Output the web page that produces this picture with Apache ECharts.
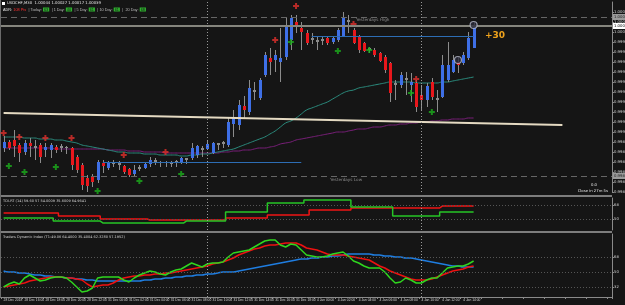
<!DOCTYPE html>
<html>
<head>
<meta charset="utf-8">
<script src="https://cdn.jsdelivr.net/npm/echarts@6/dist/echarts.min.js"></script>
<style>
html,body{margin:0;padding:0;background:#151515;}
#chart{width:625px;height:305px;}
</style>
</head>
<body>
<div id="chart"></div>
<script>
// price values in points (1 pt = 0.00001)
var tickLabels = ['28 Dec 2018','28 Dec 16:00','28 Dec 18:00','28 Dec 20:00','28 Dec 22:00','31 Dec 00:00','31 Dec 02:00','31 Dec 04:00','31 Dec 06:00','31 Dec 08:00','31 Dec 10:00','31 Dec 12:00','31 Dec 14:00','31 Dec 16:00','31 Dec 18:00','4 Jan 00:00','4 Jan 02:00','4 Jan 04:00','4 Jan 06:00','4 Jan 08:00','4 Jan 10:00','4 Jan 12:00','4 Jan 14:00'];

// open, close, low, high
var ohlc = [
[99884,99890,99880,99896],[99890,99884,99882,99892],[99892,99886,99875,99902],[99887,99879,99870,99889],
[99880,99889,99877,99892],[99889,99886,99875,99894],[99886,99884,99872,99892],[99887,99875,99869,99889],
[99882,99885,99875,99889],[99882,99887,99874,99889],[99885,99882,99879,99887],[99884,99886,99880,99888],
[99885,99884,99878,99886],[99884,99867,99862,99885],[99875,99862,99859,99877],[99867,99847,99842,99869],
[99854,99846,99840,99857],[99856,99850,99845,99858],[99852,99870,99849,99872],[99869,99866,99859,99872],
[99864,99869,99862,99871],[99868,99870,99865,99872],[99869,99867,99862,99871],[99866,99860,99858,99867],
[99863,99857,99855,99864],[99858,99862,99855,99867],[99863,99865,99861,99867],[99864,99868,99863,99869],
[99868,99872,99865,99875],[99872,99870,99867,99874],[99870,99869,99865,99871],[99869,99870,99865,99871],
[99870,99868,99865,99871],[99869,99871,99865,99872],[99869,99874,99868,99875],[99874,99872,99868,99874],
[99874,99884,99872,99889],[99877,99886,99874,99887],[99884,99882,99875,99886],[99883,99888,99882,99892],
[99879,99889,99878,99890],[99887,99889,99882,99889],[99888,99890,99884,99891],[99887,99910,99885,99914],
[99908,99914,99895,99922],[99907,99927,99902,99932],[99926,99922,99914,99936],[99920,99944,99917,99952],
[99942,99940,99932,99950],[99934,99952,99932,99954],[99957,99977,99955,99980],[99974,99970,99957,99984],
[99972,99977,99960,99982],[99970,99974,99950,100004],[99975,100007,99972,100014],[99992,100014,99982,100017],
[100010,100007,99999,100017],[100004,100000,99982,100010],[99999,99989,99987,100002],[99994,99992,99988,99999],
[99992,99990,99982,99995],[99993,99991,99987,99995],[99994,99989,99987,99995],[99990,99994,99988,99996],
[99992,100002,99990,100004],[99995,100014,99995,100020],[100012,100010,99999,100017],[100002,99989,99988,100004],
[99995,99982,99979,99997],[99989,99981,99980,99990],[99984,99982,99979,99985],[99982,99977,99975,99984],
[99979,99971,99970,99980],[99975,99962,99959,99977],[99969,99939,99930,99970],[99947,99949,99932,99952],
[99947,99957,99944,99960],[99954,99952,99937,99960],[99947,99950,99930,99959],[99949,99925,99920,99952],
[99937,99932,99922,99947],[99932,99946,99925,99949],[99950,99935,99932,99954],[99932,99934,99920,99942],
[99935,99967,99934,99977],[99952,99967,99950,99990],[99960,99972,99959,99977],[99970,99967,99959,99975],
[99969,99977,99967,99980],[99974,99994,99972,100000],[99984,100006,99984,100010]
];

var maTeal = [99895,99895,99895,99895,99894,99894,99894,99893,99893,99893,99892,99892,99891,99890,99889,99887,99886,99885,99884,99883,
99882,99881,99880,99880,99879,99879,99879,99878,99878,99878,99877,99877,99877,99877,99876,99876,99877,99877,99878,99878,
99879,99880,99881,99882,99883,99885,99887,99889,99891,99893,99895,99898,99901,99905,99909,99911,99914,99918,99922,99924,
99926,99928,99930,99933,99936,99939,99941,99942,99944,99945,99946,99947,99948,99949,99950,99950,99950,99950,99950,99949,
99949,99949,99949,99949,99950,99950,99951,99952,99953,99954,99955];

var maPurple = [99884,99884,99884,99884,99884,99884,99884,99884,99884,99884,99883,99883,99883,99883,99883,99883,99883,99883,99883,99883,
99882,99882,99882,99882,99881,99881,99881,99880,99880,99880,99880,99879,99879,99879,99879,99879,99879,99879,99879,99879,
99879,99879,99880,99880,99881,99881,99882,99882,99883,99884,99884,99885,99886,99888,99889,99890,99892,99893,99894,99895,
99896,99897,99898,99899,99900,99900,99901,99902,99903,99903,99904,99905,99905,99906,99907,99907,99908,99908,99909,99909,
99910,99910,99911,99911,99912,99912,99913,99913,99913,99914,99914];

var sellSig = [[0,99899],[3,99895],[8,99894],[13,99894],[23,99877],[31,99880],[52,99992],[56,100026],[67,100008],[79,99953]];
var buySig = [[1,99866],[4,99860],[10,99865],[18,99841],[26,99851],[34,99858],[55,99990],[64,99981],[70,99982],[78,99939],[82,99920]];
var circles = [[90,100007],[87,99972]];

var yHigh = 100015, yLow = 99856, lastPrice = 100006;
var blueLevelA = 99996, blueLevelB = 99870;
var trendStart = 99919, trendEnd = 99907;

// RSI panel
var rsiRed = [57.8,57.8,57.8,57.8,57.8,57.8,57.8,57.8,57.8,57.8,57.8,53.9,53.9,53.9,53.9,53.9,53.9,53.9,53.9,50.1,
50.1,50.1,50.1,50.1,50.1,50.1,50.1,50.1,48.8,48.8,48.8,48.8,48.8,48.8,48.8,48.8,48.8,48.8,48.8,48.8,
48.8,48.8,48.8,51.4,51.4,51.4,51.4,51.4,51.4,51.4,51.4,55.2,55.2,55.2,55.2,55.2,55.2,55.2,55.2,61.6,
61.6,61.6,61.6,61.6,61.6,61.6,61.6,64.2,64.2,64.2,64.2,64.2,64.2,64.2,64.2,64.2,64.2,64.2,64.2,64.2,
64.2,64.2,64.2,64.2,66.7,66.7,66.7,66.7,66.7,66.7,66.7];
var rsiGreen = [51.4,51.4,51.4,51.4,51.4,51.4,51.4,51.4,51.4,51.4,47.5,47.5,47.5,47.5,47.5,47.5,47.5,47.5,47.5,45.0,
45.0,45.0,45.0,45.0,45.0,45.0,45.0,45.0,45.0,45.0,45.0,45.0,45.0,45.0,45.0,47.5,47.5,47.5,47.5,47.5,
47.5,47.5,47.5,59.0,59.0,59.0,59.0,59.0,59.0,59.0,59.0,70.6,70.6,70.6,70.6,70.6,70.6,70.6,74.4,74.4,
74.4,74.4,74.4,74.4,74.4,74.4,74.4,65.5,65.5,65.5,65.5,65.5,65.5,65.5,65.5,53.9,53.9,53.9,53.9,53.9,
53.9,53.9,53.9,53.9,59.0,59.0,59.0,59.0,59.0,59.0,59.0];

// Traders Dynamic Index
var tdiBlue = [51.2,50,50,48.8,48.8,47.6,46.4,46.4,45.2,45.2,44,44,42.8,42.8,41.6,41.6,40.4,40.4,39.2,39.2,
39.2,39.2,39.2,39.2,39.2,39.2,39.2,40.4,40.4,41.6,41.6,42.8,42.8,44,44,45.2,45.2,46.4,46.4,47.6,
47.6,48.8,50,50,50,51.2,52.4,53.6,54.8,56,57.2,58.4,59.6,60.8,62,63.2,64.4,65.6,65.6,66.8,
66.8,68,68,69.2,69.2,70.4,71.6,71.6,71.6,71.6,71.6,70.4,70.4,69.2,69.2,68,68,66.8,66.8,65.6,
64.4,63.2,62,60.8,59.6,58.4,57.2,57.2,56,56,56];
var tdiRed = [32,33.2,34.4,35.6,36.8,39.2,40.4,41.6,42.8,44,44,44,42.8,42.8,41.6,40.4,35.6,32,33.2,34.4,
34.4,36.8,40.4,42.8,44,45.2,45.2,46.4,46.4,47.6,47.6,48.8,48.8,50,51.2,52.4,53.6,54.8,56,57.2,
59.6,60.8,62,64.4,66.8,70.4,72.8,75.2,77.6,78.8,81.2,82.4,82.4,83.6,84.8,84.8,84.8,82.4,78.8,77.6,
76.4,74,71.6,70.4,70.4,70.4,69.2,68,66.8,65.6,64.4,60.8,57.2,54.8,51.2,48.8,46.4,44,41.6,40.4,
40.4,40.4,41.6,44,46.4,48.8,51.2,52.4,53.6,56,57.2];
var tdiGreen = [32,35.6,38,35.6,42.8,46.4,42.8,39.2,40.4,42.8,44,44,42.8,38,32,26,27.2,30.8,42.8,44,
44,44,44,40.4,38,42.8,46.4,48.8,51.2,50,47.6,46.4,50,52.4,53.6,57.2,60.8,58.4,56,59.6,
60.8,60.8,62,68,72.8,74,75.2,76.4,80,83.6,87.2,88.4,88.4,82.4,80,83.6,82.4,76.4,70.4,69.2,
68,68,69.2,71.6,72.8,74,69.2,63.2,60.8,57.2,54.8,54.8,54.8,50,42.8,36.8,38,42.8,40.4,36.8,
36.8,40.4,42.8,42.8,48.8,54.8,56,57.2,57.2,59.6,63.2];

var sepBars = [38.5, 79.5];

var cats = [];
for (var k = 0; k < 117; k++) cats.push(String(k));

var axisTxt = '#d4d4d4';
var fnt = 'DejaVu Sans';
var tiny = 3.8;

function vLines() {
    return sepBars.map(function (b) { return { xAxis: b }; });
}

var chart = echarts.init(document.getElementById('chart'), null, { renderer: 'canvas' });

var option = {
    backgroundColor: '#151515',
    animation: false,
    textStyle: { fontFamily: fnt },
    grid: [
        { left: 1, top: 2, width: 611, height: 190, containLabel: false, outerBoundsMode: 'none' },
        { left: 1, top: 198, width: 611, height: 32, containLabel: false, outerBoundsMode: 'none' },
        { left: 1, top: 234, width: 611, height: 63, containLabel: false, outerBoundsMode: 'none' }
    ],
    xAxis: [0, 1, 2].map(function (g) {
        return {
            type: 'category', gridIndex: g, data: cats, boundaryGap: true,
            axisLine: { show: g == 2, lineStyle: { color: '#8a8a8a' } },
            axisTick: { show: g == 2, interval: 3, length: 2, lineStyle: { color: '#8a8a8a' } },
            axisLabel: {
                show: g == 2, color: axisTxt, fontSize: 3.3, fontFamily: 'Liberation Sans', margin: 2, align: 'left',
                hideOverlap: false, showMinLabel: true,
                interval: function (idx) { return idx % 4 == 0 && idx / 4 < tickLabels.length; },
                formatter: function (v, idx) { return tickLabels[idx / 4] || ''; }
            },
            splitLine: { show: false }
        };
    }),
    yAxis: [
        {
            type: 'value', gridIndex: 0, position: 'right', min: 99840, max: 100030, interval: 10,
            axisLine: { show: true, lineStyle: { color: '#8a8a8a' } },
            axisTick: { show: true, length: 2 },
            axisLabel: { color: axisTxt, fontSize: tiny, margin: 2, showMaxLabel: false,
                formatter: function (v) { return (v / 100000).toFixed(5); } },
            splitLine: { show: false }
        },
        {
            type: 'value', gridIndex: 1, position: 'right', min: 36, max: 77,
            axisLine: { show: true, lineStyle: { color: '#8a8a8a' } },
            axisTick: { show: true, length: 2, customValues: [50, 68] },
            axisLabel: { color: axisTxt, fontSize: tiny, margin: 2, customValues: [50, 68] },
            splitLine: { show: false }
        },
        {
            type: 'value', gridIndex: 2, position: 'right', min: 20, max: 95.6,
            axisLine: { show: true, lineStyle: { color: '#8a8a8a' } },
            axisTick: { show: true, length: 2, customValues: [32, 50, 68] },
            axisLabel: { color: axisTxt, fontSize: tiny, margin: 2, customValues: [32, 50, 68] },
            splitLine: { show: false }
        }
    ],
    series: [
        {
            name: 'ma2', type: 'line', xAxisIndex: 0, yAxisIndex: 0, data: maPurple, smooth: true,
            showSymbol: false, lineStyle: { color: '#7a1f7a', width: 1 }, z: 2,
            markLine: {
                silent: true, symbol: 'none',
                data: [
                    [{ coord: [0, trendStart], lineStyle: { color: '#e4dac2', width: 2, type: 'solid' }, label: { show: false } },
                     { coord: [107, trendEnd] }],
                    [{ coord: [59, blueLevelA], lineStyle: { color: '#2d6db4', width: 1, type: 'solid' }, label: { show: false } },
                     { coord: [90, blueLevelA] }],
                    [{ coord: [19, blueLevelB], lineStyle: { color: '#2d6db4', width: 1, type: 'solid' }, label: { show: false } },
                     { coord: [57, blueLevelB] }],
                    { yAxis: yHigh, lineStyle: { color: '#666', width: 1, type: [6, 4] },
                      label: { show: true, position: 'end', distance: 1, fontSize: tiny, color: '#222', backgroundColor: '#9a9a9a', padding: [1, 1],
                               formatter: function () { return (yHigh / 100000).toFixed(5); } } },
                    { yAxis: yLow, lineStyle: { color: '#666', width: 1, type: [6, 4] },
                      label: { show: true, position: 'end', distance: 1, fontSize: tiny, color: '#222', backgroundColor: '#9a9a9a', padding: [1, 1],
                               formatter: function () { return (yLow / 100000).toFixed(5); } } },
                    { yAxis: lastPrice, lineStyle: { color: '#85857d', width: 2, type: 'solid' },
                      label: { show: true, position: 'end', distance: 1, fontSize: tiny, color: '#000', backgroundColor: '#ffffff', padding: [1, 1],
                               formatter: function () { return (lastPrice / 100000).toFixed(5); } } }
                ].concat(vLines().map(function (d) {
                    d.lineStyle = { color: '#9a9a9a', width: 1, type: [1, 2] }; d.label = { show: false }; return d;
                }))
            }
        },
        {
            name: 'ma1', type: 'line', xAxisIndex: 0, yAxisIndex: 0, data: maTeal, smooth: true,
            showSymbol: false, lineStyle: { color: '#2b8c7e', width: 1 }, z: 2
        },
        {
            name: 'bars', type: 'custom', xAxisIndex: 0, yAxisIndex: 0, z: 3,
            data: ohlc.map(function (d, i) { return [i, d[0], d[1], d[2], d[3]]; }),
            encode: { x: 0, y: [1, 2, 3, 4] },
            renderItem: function (params, api) {
                var i = api.value(0);
                var o = api.coord([i, api.value(1)]);
                var c = api.coord([i, api.value(2)]);
                var l = api.coord([i, api.value(3)]);
                var h = api.coord([i, api.value(4)]);
                var x = Math.round(o[0]) + 0.5;
                var diff = api.value(2) - api.value(1);
                var col = diff > 2 ? '#3e6fe6' : (diff < -2 ? '#e8171c' : '#8c8c8c');
                var top = Math.min(o[1], c[1]);
                var bh = Math.max(1, Math.abs(o[1] - c[1]));
                return {
                    type: 'group',
                    children: [
                        { type: 'line', shape: { x1: x, y1: h[1], x2: x, y2: l[1] }, style: { stroke: '#8c8c8c', lineWidth: 1 } },
                        { type: 'rect', shape: { x: x - 1.5, y: top, width: 3, height: bh }, style: { fill: col } }
                    ]
                };
            }
        },
        {
            name: 'sell', type: 'scatter', xAxisIndex: 0, yAxisIndex: 0, data: sellSig, z: 4,
            symbol: 'path://M2,0h2v2h2v2h-2v2h-2v-2h-2v-2h2z', symbolSize: 6,
            itemStyle: { color: '#e0302c' }
        },
        {
            name: 'buy', type: 'scatter', xAxisIndex: 0, yAxisIndex: 0, data: buySig, z: 4,
            symbol: 'path://M2,0h2v2h2v2h-2v2h-2v-2h-2v-2h2z', symbolSize: 6,
            itemStyle: { color: '#1cae1c' }
        },
        {
            name: 'marks', type: 'scatter', xAxisIndex: 0, yAxisIndex: 0, data: circles, z: 5,
            symbol: 'circle', symbolSize: 7,
            itemStyle: { color: '#2a2a3a', borderColor: '#b8bccc', borderWidth: 1.2 }
        },
        {
            name: 'rsiRed', type: 'line', step: 'middle', xAxisIndex: 1, yAxisIndex: 1, data: rsiRed,
            showSymbol: false, lineStyle: { color: '#f01414', width: 1.5 },
            markLine: {
                silent: true, symbol: 'none', label: { show: false },
                data: [
                    { yAxis: 50, lineStyle: { color: '#555', width: 1, type: [1, 2] } },
                    { yAxis: 68, lineStyle: { color: '#555', width: 1, type: [1, 2] } }
                ].concat(vLines().map(function (d) {
                    d.lineStyle = { color: '#9a9a9a', width: 1, type: [1, 2] }; return d;
                }))
            }
        },
        {
            name: 'rsiGreen', type: 'line', step: 'middle', xAxisIndex: 1, yAxisIndex: 1, data: rsiGreen,
            showSymbol: false, lineStyle: { color: '#26c526', width: 1.5 }
        },
        {
            name: 'tdiBlue', type: 'line', xAxisIndex: 2, yAxisIndex: 2, data: tdiBlue, smooth: true,
            showSymbol: false, lineStyle: { color: '#1f7de0', width: 1.5 },
            markLine: {
                silent: true, symbol: 'none', label: { show: false },
                data: [
                    { yAxis: 32, lineStyle: { color: '#555', width: 1, type: [1, 2] } },
                    { yAxis: 50, lineStyle: { color: '#555', width: 1, type: [1, 2] } },
                    { yAxis: 68, lineStyle: { color: '#555', width: 1, type: [1, 2] } }
                ].concat(vLines().map(function (d) {
                    d.lineStyle = { color: '#9a9a9a', width: 1, type: [1, 2] }; return d;
                }))
            }
        },
        {
            name: 'tdiRed', type: 'line', xAxisIndex: 2, yAxisIndex: 2, data: tdiRed,
            showSymbol: false, lineStyle: { color: '#ee1111', width: 1.5 }
        },
        {
            name: 'tdiGreen', type: 'line', xAxisIndex: 2, yAxisIndex: 2, data: tdiGreen,
            showSymbol: false, lineStyle: { color: '#2fd61f', width: 1.5 }
        }
    ],
    graphic: [
        // panel frames
        { type: 'rect', shape: { x: 0, y: 195, width: 612, height: 2 }, style: { fill: '#7d7d7d' }, silent: true },
        { type: 'rect', shape: { x: 0, y: 231, width: 612, height: 2 }, style: { fill: '#7d7d7d' }, silent: true },
        { type: 'rect', shape: { x: 0, y: 0, width: 1, height: 298 }, style: { fill: '#6a6a6a' }, silent: true },
        // header texts
        { type: 'rect', shape: { x: 2, y: 2, width: 3, height: 3 }, style: { fill: '#ffffff' }, silent: true },
        { type: 'text', left: 7, top: 1.5, silent: true,
          style: { text: 'USDCHF,M30  1.00044 1.00027 1.00017 1.00039', fill: '#e6e6e6', fontSize: tiny, fontFamily: fnt } },
        { type: 'text', left: 3, top: 7.5, silent: true,
          style: {
              text: '{w|ADR:} {r|108 Pts}  {g|| Today:} {v|63}  {g|| 1 Day:} {v|40}  {g|| 5 Day:} {v|61}  {g|| 10 Day:} {v|61}  {g||  20 Day:} {v|68}',
              fontSize: tiny, fontFamily: fnt,
              rich: {
                  w: { fill: '#e6e6e6', fontSize: tiny },
                  r: { fill: '#ff3030', fontSize: tiny },
                  g: { fill: '#bdbdbd', fontSize: tiny },
                  v: { fill: '#111', backgroundColor: '#2fb32f', fontSize: tiny, padding: [0, 1] }
              }
          } },
        { type: 'text', left: 356, top: 18, silent: true,
          style: { text: 'Yesterdays High', fill: '#8a8a8a', fontSize: 4.2, fontFamily: fnt } },
        { type: 'text', left: 330, top: 178, silent: true,
          style: { text: 'Yesterdays Low', fill: '#8a8a8a', fontSize: 4.2, fontFamily: fnt } },
        { type: 'text', left: 485, top: 31, silent: true,
          style: { text: '+30', fill: '#eea21c', fontSize: 9, fontWeight: 'bold', fontFamily: fnt } },
        { type: 'text', right: 28, top: 183, silent: true,
          style: { text: '0.0', fill: '#e6e6e6', fontSize: tiny, fontFamily: fnt } },
        { type: 'text', right: 17, top: 189.5, silent: true,
          style: { text: 'Close in 27m 5s', fill: '#e6e6e6', fontSize: tiny, fontFamily: fnt } },
        { type: 'text', left: 3, top: 199.5, silent: true,
          style: { text: 'TDI-RT (14) 59.60 57 54.0009 35.6009 64.9641', fill: '#cfcfcf', fontSize: 3.5, fontFamily: fnt } },
        { type: 'text', left: 3, top: 235.5, silent: true,
          style: { text: 'Traders Dynamic Index (T1:49.06 64.4000 35.4004 62.3280 57.1952)', fill: '#cfcfcf', fontSize: 3.5, fontFamily: fnt } }
    ]
};

chart.setOption(option);
</script>
</body>
</html>
